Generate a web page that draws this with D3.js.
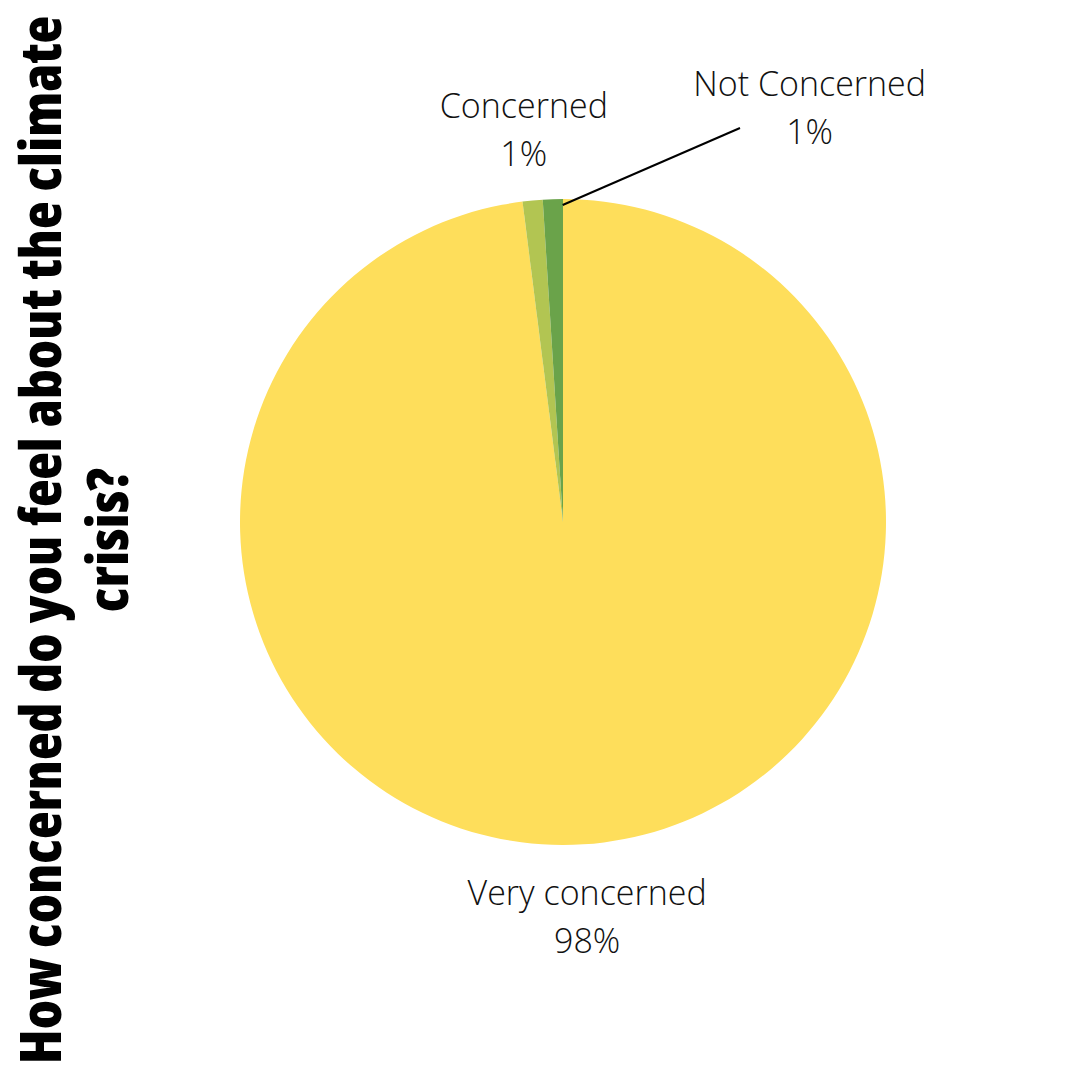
<!DOCTYPE html>
<html>
<head>
<meta charset="utf-8">
<script src="https://cdn.jsdelivr.net/npm/d3@7"></script>
<style>
  body { margin: 0; background: #fff; }
  svg { display: block; }
  .lbl { font-family: "Open Sans", sans-serif; font-weight: 300; font-size: 34px; fill: #111; }
  .title { font-family: "Open Sans", sans-serif; font-weight: 800; font-stretch: 75%; font-size: 57px; fill: #000; }
</style>
</head>
<body>
<svg width="1080" height="1080"></svg>
<script>
var categories = ['Very concerned', 'Concerned', 'Not Concerned'];
var values = [98, 1, 1];
var percentLabels = ['98%', '1%', '1%'];
var colors = ['#FEDE5B', '#B2C552', '#6AA34A'];
var titleLines = ['How concerned do you feel about the climate', 'crisis?'];

var width = 1080, height = 1080;
var cx = 563, cy = 522, radius = 323;

var svg = d3.select('svg');

var pie = d3.pie().sort(null).value(function(d) { return d; });
var arc = d3.arc().innerRadius(0).outerRadius(radius);
var arcs = pie(values);

var g = svg.append('g').attr('transform', 'translate(' + cx + ',' + cy + ')');

g.selectAll('path')
  .data(arcs)
  .enter()
  .append('path')
  .attr('d', arc)
  .style('fill', function(d, i) { return colors[i]; });

// label placement, tweaked by hand like the original
var labelRadius = [384, 406, 426];
var labelShift = [[0, 0], [-1, 0], [260, 0]];

var labels = g.selectAll('text.lbl')
  .data(arcs)
  .enter()
  .append('text')
  .attr('class', 'lbl')
  .attr('text-anchor', 'middle')
  .attr('transform', function(d, i) {
    var a = (d.startAngle + d.endAngle) / 2;
    var x = labelRadius[i] * Math.sin(a) + labelShift[i][0];
    var y = -labelRadius[i] * Math.cos(a) + labelShift[i][1];
    return 'translate(' + x + ',' + y + ')';
  });

labels.append('tspan').attr('x', 0).attr('dy', 0).text(function(d, i) { return categories[i]; });
labels.append('tspan').attr('x', 0).attr('dy', 48).text(function(d, i) { return percentLabels[i]; });

// leader line for Not Concerned
var nc = arcs[2];
var ncA = nc.endAngle - 0.001;
g.append('line')
  .attr('x1', radius * Math.sin(ncA))
  .attr('y1', -radius * Math.cos(ncA) + 6)
  .attr('x2', 177)
  .attr('y2', -394)
  .style('stroke', '#000')
  .style('stroke-width', 2);

// rotated title
var title = svg.append('text')
  .attr('class', 'title')
  .attr('text-anchor', 'middle')
  .attr('transform', 'translate(0,' + (height / 2) + ') rotate(-90)');

title.selectAll('tspan')
  .data(titleLines)
  .enter()
  .append('tspan')
  .attr('x', 0)
  .attr('y', function(d, i) { return 61 + i * 67; })
  .text(function(d) { return d; });
</script>
</body>
</html>
